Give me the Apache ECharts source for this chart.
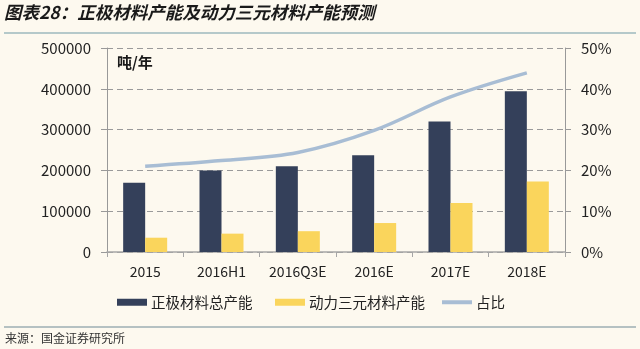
<!DOCTYPE html>
<html>
<head>
<meta charset="utf-8">
<script src="https://cdn.jsdelivr.net/npm/echarts@6/dist/echarts.min.js"></script>
<style>
html,body{margin:0;padding:0;background:#fdf9ef;}
#c{width:640px;height:349px;}
</style>
</head>
<body>
<div id="c"></div>
<script>
var categories = ['2015', '2016H1', '2016Q3E', '2016E', '2017E', '2018E'];
var totalCapacity = [170000, 200000, 210000, 237000, 320000, 394000];
var ncmCapacity = [35000, 45000, 51000, 71000, 120000, 173000];
var sharePct = [21.0, 22.4, 24.4, 29.8, 38.0, 43.9];
var leftTicks = [0, 100000, 200000, 300000, 400000, 500000];
var rightTicks = [0, 10, 20, 30, 40, 50];
var seriesNames = ['正极材料总产能', '动力三元材料产能', '占比'];
var titleText = '图表28：正极材料产能及动力三元材料产能预测';
var unitText = '吨/年';
var sourceText = '来源：国金证券研究所';

var FONT = '"Noto Sans CJK SC", "Noto Sans", sans-serif';
var chart = echarts.init(document.getElementById('c'), null, {renderer: 'canvas'});

function legendAt(left, name, h) {
  return {
    left: left, top: 290, itemWidth: 30, itemHeight: h, itemGap: 0,
    data: [{name: name, icon: 'rect'}],
    textStyle: {fontFamily: FONT, fontSize: 14.5, color: '#222', padding: [0, 0, 0, -1]},
    selectedMode: false
  };
}

chart.setOption({
  backgroundColor: '#fdf9ef',
  textStyle: {fontFamily: FONT},
  animation: false,
  grid: {left: 107, right: 75, top: 48, bottom: 97, containLabel: false},
  legend: [
    legendAt(112, seriesNames[0], 7),
    legendAt(270, seriesNames[1], 7),
    legendAt(437, seriesNames[2], 4)
  ],
  xAxis: {
    type: 'category',
    data: categories,
    axisLine: {lineStyle: {color: '#a6a6a6', width: 1.5}},
    axisTick: {show: true, length: 5, lineStyle: {color: '#a6a6a6'}},
    axisLabel: {fontFamily: FONT, fontSize: 14, color: '#222', margin: 13, interval: 0}
  },
  yAxis: [
    {
      type: 'value', min: leftTicks[0], max: leftTicks[leftTicks.length - 1], interval: 100000,
      axisLine: {show: true, lineStyle: {color: '#999'}},
      axisTick: {show: true, length: 6, lineStyle: {color: '#999'}},
      axisLabel: {fontFamily: FONT, fontSize: 15, color: '#222', margin: 16, formatter: function (v) { return String(v); }},
      splitLine: {show: true, lineStyle: {color: '#9a9a9a', type: [6, 4], width: 1}}
    },
    {
      type: 'value', min: rightTicks[0], max: rightTicks[rightTicks.length - 1], interval: 10,
      axisLine: {show: true, lineStyle: {color: '#999'}},
      axisTick: {show: true, length: 6, lineStyle: {color: '#999'}},
      axisLabel: {fontFamily: FONT, fontSize: 15, color: '#222', margin: 16, formatter: '{value}%'},
      splitLine: {show: false}
    }
  ],
  series: [
    {
      name: seriesNames[0], type: 'bar', data: totalCapacity,
      barWidth: 22, barGap: '0%',
      itemStyle: {color: '#34405a'}
    },
    {
      name: seriesNames[1], type: 'bar', data: ncmCapacity,
      barWidth: 22, barGap: '0%',
      itemStyle: {color: '#fad55c'}
    },
    {
      name: seriesNames[2], type: 'line', data: sharePct, yAxisIndex: 1,
      smooth: 0.35, symbol: 'none',
      lineStyle: {color: '#a8bdd4', width: 3.5},
      itemStyle: {color: '#a8bdd4'}
    }
  ],
  graphic: [
    {type: 'text', left: 4, top: 4, style: {text: titleText, font: 'italic bold 17.5px ' + FONT, fill: '#1a1a1a'}},
    {type: 'line', shape: {x1: 4, y1: 33, x2: 636, y2: 33}, style: {stroke: '#6e9aa6', lineWidth: 1.2}},
    {type: 'text', left: 117, top: 55, style: {text: unitText, font: 'bold 15px ' + FONT, fill: '#1a1a1a'}},
    {type: 'line', shape: {x1: 4, y1: 327, x2: 636, y2: 327}, style: {stroke: '#6e8a96', lineWidth: 1.2}},
    {type: 'text', left: 5, top: 332, style: {text: sourceText, font: '12px ' + FONT, fill: '#333'}}
  ]
});
</script>
</body>
</html>
